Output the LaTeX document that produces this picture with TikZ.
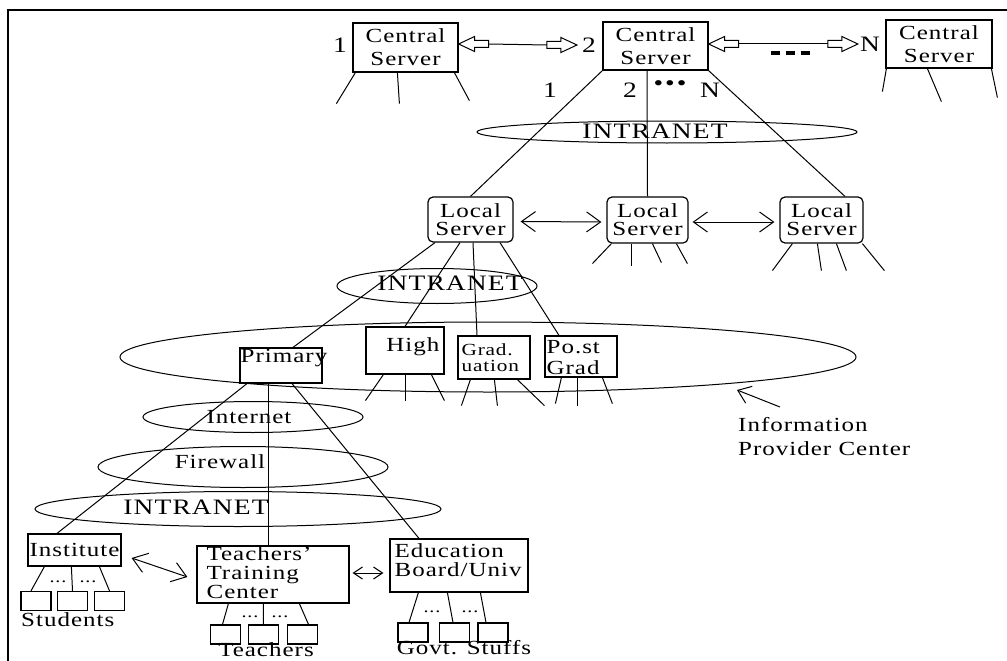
\documentclass[tikz,border=0pt]{standalone}
\usepackage{fontspec}
\setmainfont{Liberation Serif}[FakeStretch=1.25,LetterSpace=5]
\usetikzlibrary{arrows.meta,shapes.geometric}

\begin{document}
\begin{tikzpicture}[
	x=1pt, y=-1pt,
	every node/.style={inner sep=0pt},
	box/.style={draw, rectangle, line width=1.2pt, align=center, font=\fontsize{20}{23}\selectfont},
	lbox/.style={box, rounded corners=5pt, font=\fontsize{20}{18}\selectfont},
	sbox/.style={draw, rectangle, line width=1.2pt, minimum width=30pt, minimum height=19pt},
	net/.style={draw, ellipse, line width=1pt},
	txt/.style={font=\fontsize{20}{19}\selectfont, align=left},
	num/.style={font=\fontsize{22}{22}\selectfont},
	few/.style={font=\fontsize{16}{16}\selectfont},
	link/.style={line width=1pt},
	twoway/.style={link, {Straight Barb[length=14pt,width=20pt]}-{Straight Barb[length=14pt,width=20pt]}},
	blockhead/.pic={\draw[line width=1pt, fill=white] (0,0) -- (-16,-7.5) -- (-16,-3.5) -- (-30,-3.5) -- (-30,3.5) -- (-16,3.5) -- (-16,7.5) -- cycle;}
	]
	\useasboundingbox (0,0) rectangle (1007,661);
	\draw[line width=2pt] (8,661) -- (8,10) -- (1007,10);

	\node[net, minimum width=380pt, minimum height=22pt] (intra1) at (667,132) {};
	\node[net, minimum width=200pt, minimum height=35pt] (intra2) at (437,286) {};
	\node[net, minimum width=736pt, minimum height=70pt] (ipc) at (488,357) {};
	\node[net, minimum width=220pt, minimum height=31pt] (inet) at (253,417) {};
	\node[net, minimum width=290pt, minimum height=41pt] (fire) at (243,467) {};
	\node[net, minimum width=406pt, minimum height=35pt] (intra3) at (238,509) {};

	\node[box, minimum width=105pt, minimum height=49pt] (cs1) at (405.5,47.5) {Central\\Server};
	\node[box, minimum width=105pt, minimum height=48pt] (cs2) at (655.5,46) {Central\\Server};
	\node[box, minimum width=106pt, minimum height=48pt] (csn) at (939,44) {Central\\Server};
	\node[num] (one) at (340,45) {1};
	\node[num] (two) at (589,45) {2};
	\node[num] (enn) at (870,44) {N};
	\node (gap) at (790,53) {\rule{9pt}{4pt}\hspace{6pt}\rule{9pt}{4pt}\hspace{6pt}\rule{9pt}{4pt}};

	\pic[rotate=180] at ([yshift=3.5pt]cs1.east) {blockhead};
	\pic at ([xshift=-5pt]two.west) {blockhead};
	\draw[link] ([xshift=30pt,yshift=3.5pt]cs1.east) -- ([xshift=-35pt]two.west);
	\pic[rotate=180] at ([yshift=2pt]cs2.east) {blockhead};
	\pic at ([xshift=-2pt]enn.west) {blockhead};
	\draw[link] ([xshift=30pt,yshift=2pt]cs2.east) -- ([xshift=-32pt]enn.west);

	\foreach \a/\b/\c in {3/-19/31, 45/2/31, 102/15/28}
		\draw[link] ([xshift=\a pt]cs1.south west) -- ++(\b,\c);
	\foreach \a/\b/\c in {1/-4/23, 42/14/33, 106/6/29}
		\draw[link] ([xshift=\a pt]csn.south west) -- ++(\b,\c);

	\node[num] (l1) at (550,90) {1};
	\node[num] (l2) at (630,90) {2};
	\node[num] (ldots) at (670,86) {•\hspace{2pt}•\hspace{2pt}•};
	\node[num] (ln) at (710,90) {N};
	\node[num] (t1) at (655,131) {INTRANET};

	\node[lbox, minimum width=85pt, minimum height=45pt] (ls1) at (470.5,219.5) {Local\\Server};
	\node[lbox, minimum width=81pt, minimum height=46pt] (ls2) at (647.5,220) {Local\\Server};
	\node[lbox, minimum width=83pt, minimum height=46pt] (ls3) at (821.5,220) {Local\\Server};

	\draw[link] (cs2.south west) -- (ls1.north);
	\draw[link] ([xshift=-8.5pt]cs2.south) -- (ls2.north);
	\draw[link] (cs2.south east) -- ([xshift=23.5pt]ls3.north);
	\draw[twoway] ([xshift=7pt,yshift=-2pt]ls1.east) -- ([xshift=-5pt,yshift=-2pt]ls2.west);
	\draw[twoway] ([xshift=4pt,yshift=-2pt]ls2.east) -- ([xshift=-5pt,yshift=-2pt]ls3.west);

	\foreach \a/\b/\c in {5/-19/20, 25/0/22, 46/9/19, 70/11/20}
		\draw[link] ([xshift=\a pt]ls2.south west) -- ++(\b,\c);
	\foreach \a/\b/\c in {13/-20/27, 38/4/27, 57/10/27, 83/22/27}
		\draw[link] ([xshift=\a pt]ls3.south west) -- ++(\b,\c);

	\node[num] (t2) at (450,283) {INTRANET};

	\node[box, minimum width=82pt, minimum height=35pt] (primary) at (281,365.5) {};
	\node[box, minimum width=78pt, minimum height=47pt] (high) at (405,350.5) {};
	\node[box, minimum width=72pt, minimum height=43pt] (grad) at (494,357.5) {};
	\node[box, minimum width=72pt, minimum height=41pt] (post) at (581,356.5) {};
	\node[txt] (ptxt) at (284,358) {Primary};
	\node[txt, anchor=north east] (htxt) at ([xshift=-5pt,yshift=-11pt]high.north east) {High};
	\node[txt, anchor=north west, font=\fontsize{17}{16}\selectfont] (gtxt) at ([xshift=4pt,yshift=-8pt]grad.north west) {Grad.\\uation};
	\node[txt, anchor=north west, font=\fontsize{20}{21}\selectfont] (pgtxt) at ([xshift=2pt,yshift=-5pt]post.north west) {Po.st\\Grad};

	\draw[link] ([xshift=-35.5pt]ls1.south) -- ([xshift=12pt]primary.north);
	\draw[link] ([xshift=-10.5pt]ls1.south) -- (high.north);
	\draw[link] ([xshift=2.5pt]ls1.south) -- ([xshift=-17pt]grad.north);
	\draw[link] ([xshift=29.5pt]ls1.south) -- ([xshift=-22pt]post.north);

	\foreach \a/\b/\c in {18/-18/26, 40/0/26, 66/13/26}
		\draw[link] ([xshift=\a pt]high.south west) -- ++(\b,\c);
	\foreach \a/\b/\c in {13/-9/26, 37/3/26, 60/27/26}
		\draw[link] ([xshift=\a pt]grad.south west) -- ++(\b,\c);
	\foreach \a/\b/\c in {17/-6/26, 33/0/28, 58/10/26}
		\draw[link] ([xshift=\a pt]post.south west) -- ++(\b,\c);

	\node[txt, anchor=north west, font=\fontsize{20}{24}\selectfont] (info) at (738,417) {Information\\Provider Center};
	\coordinate (ipcmark) at (737,390);
	\draw[link, -{Straight Barb[length=12pt,width=18pt]}] ([xshift=42pt,yshift=10pt]info.north west) -- (ipcmark);

	\node[txt] (t3) at (249,417) {Internet};
	\node[txt] (t4) at (220,462) {Firewall};
	\node[num] (t5) at (196,507) {INTRANET};

	\node[box, minimum width=93pt, minimum height=32pt] (inst) at (74.5,550) {Institute};
	\node[box, minimum width=152pt, minimum height=57pt] (ttc) at (273,574.5) {};
	\node[box, minimum width=138pt, minimum height=53pt] (edu) at (459,565.5) {};
	\node[txt, anchor=north west] (ttctxt) at ([xshift=10pt,yshift=-1pt]ttc.north west) {Teachers'\\Training\\Center};
	\node[txt, anchor=north west] (edutxt) at ([xshift=5pt,yshift=-5pt]edu.north west) {Education\\Board/Univ};

	\draw[link] ([xshift=-34pt]primary.south) -- ([xshift=-17.5pt]inst.north);
	\draw[link] ([xshift=-13pt]primary.south) -- ([xshift=-5pt]ttc.north);
	\draw[link] ([xshift=11pt]primary.south) -- ([xshift=-40pt]edu.north);
	\draw[twoway] ([xshift=10pt,yshift=-8pt]inst.east) -- ([xshift=-9pt,yshift=-2.5pt]ttc.west);
	\draw[link, {Straight Barb[length=9pt,width=12pt]}-{Straight Barb[length=9pt,width=12pt]}] ([xshift=3pt,yshift=1.5pt]ttc.east) -- ([xshift=-6pt,yshift=-7.5pt]edu.west);

	\node[sbox] (st1) at (36,601) {};
	\node[sbox] (st2) at (72.5,601) {};
	\node[sbox] (st3) at (109.5,601) {};
	\node[sbox] (tb1) at (225.5,634.5) {};
	\node[sbox] (tb2) at (263.5,634.5) {};
	\node[sbox] (tb3) at (302.5,634.5) {};
	\node[sbox] (gb1) at (413,632.5) {};
	\node[sbox] (gb2) at (454.5,632.5) {};
	\node[sbox] (gb3) at (493,632.5) {};

	\foreach \a/\s/\d in {17/st1/-5, 44/st2/0, 72/st3/0}
		\draw[link] ([xshift=\a pt]inst.south west) -- ([xshift=\d pt]\s.north);
	\foreach \a/\s/\d in {32/tb1/-3, 67/tb2/0, 103/tb3/6}
		\draw[link] ([xshift=\a pt]ttc.south west) -- ([xshift=\d pt]\s.north);
	\foreach \a/\s/\d in {29/gb1/-4, 58/gb2/-1.5, 91/gb3/-7}
		\draw[link] ([xshift=\a pt]edu.south west) -- ([xshift=\d pt]\s.north);

	\node[few] (d1) at (58,582) {...};
	\node[few] (d2) at (88,582) {...};
	\node[few] (d3) at (250,617) {...};
	\node[few] (d4) at (280,617) {...};
	\node[few] (d5) at (432,612) {...};
	\node[few] (d6) at (470,612) {...};

	\node[txt, anchor=west] (stud) at (21,620) {Students};
	\node[txt] (teach) at (266,650) {Teachers};
	\node[txt] (govt) at (464,648) {Govt. Stuffs};
\end{tikzpicture}
\end{document}
